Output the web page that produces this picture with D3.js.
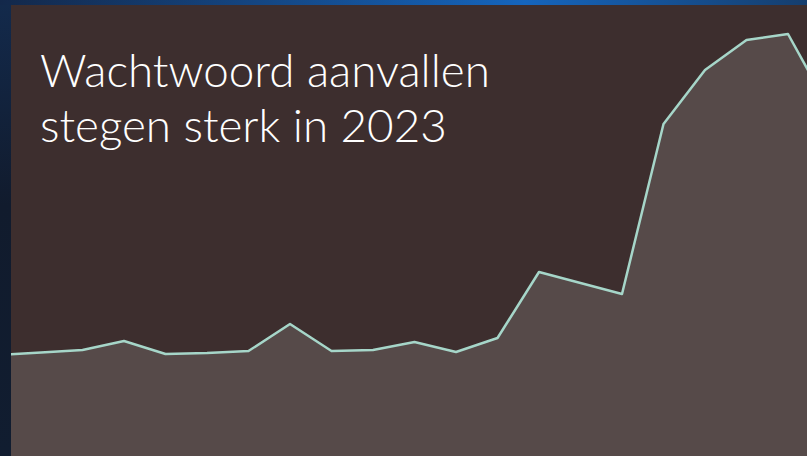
<!DOCTYPE html>
<html>
<head>
<meta charset="utf-8">
<script src="https://cdn.jsdelivr.net/npm/d3@7/dist/d3.min.js"></script>
<style>
  html, body { margin: 0; padding: 0; background: #121c2e; }
  svg { display: block; }
</style>
</head>
<body>
<div id="chart"></div>
<script>
// Data (relative attack volume)
const periods = d3.range(21);
const attacks = [101, 103.5, 106, 115, 102, 103, 105, 132, 105, 106, 114, 104, 118, 184, 173, 162, 332, 386, 416, 422, 347];
const titleLines = ["Wachtwoord aanvallen", "stegen sterk in 2023"];

const W = 807, H = 456;
const panel = { left: 11, top: 5 };

const svg = d3.select("#chart").append("svg")
    .attr("width", W)
    .attr("height", H);

// Background gradients
const defs = svg.append("defs");
const bgGrad = defs.append("linearGradient")
    .attr("id", "bg")
    .attr("x1", "0").attr("y1", "0").attr("x2", "0").attr("y2", "1");
bgGrad.append("stop").attr("offset", "0%").attr("stop-color", "#132a4c");
bgGrad.append("stop").attr("offset", "45%").attr("stop-color", "#111b2d");
bgGrad.append("stop").attr("offset", "100%").attr("stop-color", "#111d30");

const topGrad = defs.append("linearGradient")
    .attr("id", "topbar")
    .attr("x1", "0").attr("y1", "0").attr("x2", "1").attr("y2", "0");
topGrad.append("stop").attr("offset", "0%").attr("stop-color", "#13284a");
topGrad.append("stop").attr("offset", "65%").attr("stop-color", "#1565bd");
topGrad.append("stop").attr("offset", "100%").attr("stop-color", "#153e6e");

defs.append("clipPath").attr("id", "panelClip")
    .append("rect")
    .attr("x", panel.left).attr("y", panel.top)
    .attr("width", W - panel.left).attr("height", H - panel.top);

svg.append("rect").attr("width", W).attr("height", H).attr("fill", "url(#bg)");
svg.append("rect").attr("width", W).attr("height", panel.top).attr("fill", "url(#topbar)");

svg.append("rect")
    .attr("x", panel.left).attr("y", panel.top)
    .attr("width", W - panel.left).attr("height", H - panel.top)
    .attr("fill", "#3d2e2e");

// Scales
const x = d3.scaleLinear().domain([0, 20]).range([-0.5, 829.5]);
const y = d3.scaleLinear().domain([0, 456]).range([456, 0]);

const g = svg.append("g").attr("clip-path", "url(#panelClip)");

const area = d3.area()
    .x((d, i) => x(periods[i]))
    .y0(H + 5)
    .y1(d => y(d));

const line = d3.line()
    .x((d, i) => x(periods[i]))
    .y(d => y(d));

g.append("path")
    .datum(attacks)
    .attr("d", area)
    .attr("fill", "#564a49");

g.append("path")
    .datum(attacks)
    .attr("d", line)
    .attr("fill", "none")
    .attr("stroke", "#a6d6c9")
    .attr("stroke-width", 2.5)
    .attr("stroke-linejoin", "round");

// Title
const title = svg.append("text")
    .attr("fill", "#ffffff")
    .style("font-family", "Lato, 'Open Sans', sans-serif")
    .style("font-weight", 300)
    .style("font-size", "46px");

title.selectAll("tspan")
    .data(titleLines)
    .enter()
    .append("tspan")
    .attr("x", 40)
    .attr("y", (d, i) => 87 + i * 55)
    .text(d => d);

// fit first line to ~450px like the original
const firstLen = title.select("tspan").node().getComputedTextLength();
const fs = 46 * 450 / firstLen;
title.style("font-size", fs + "px");
</script>
</body>
</html>
